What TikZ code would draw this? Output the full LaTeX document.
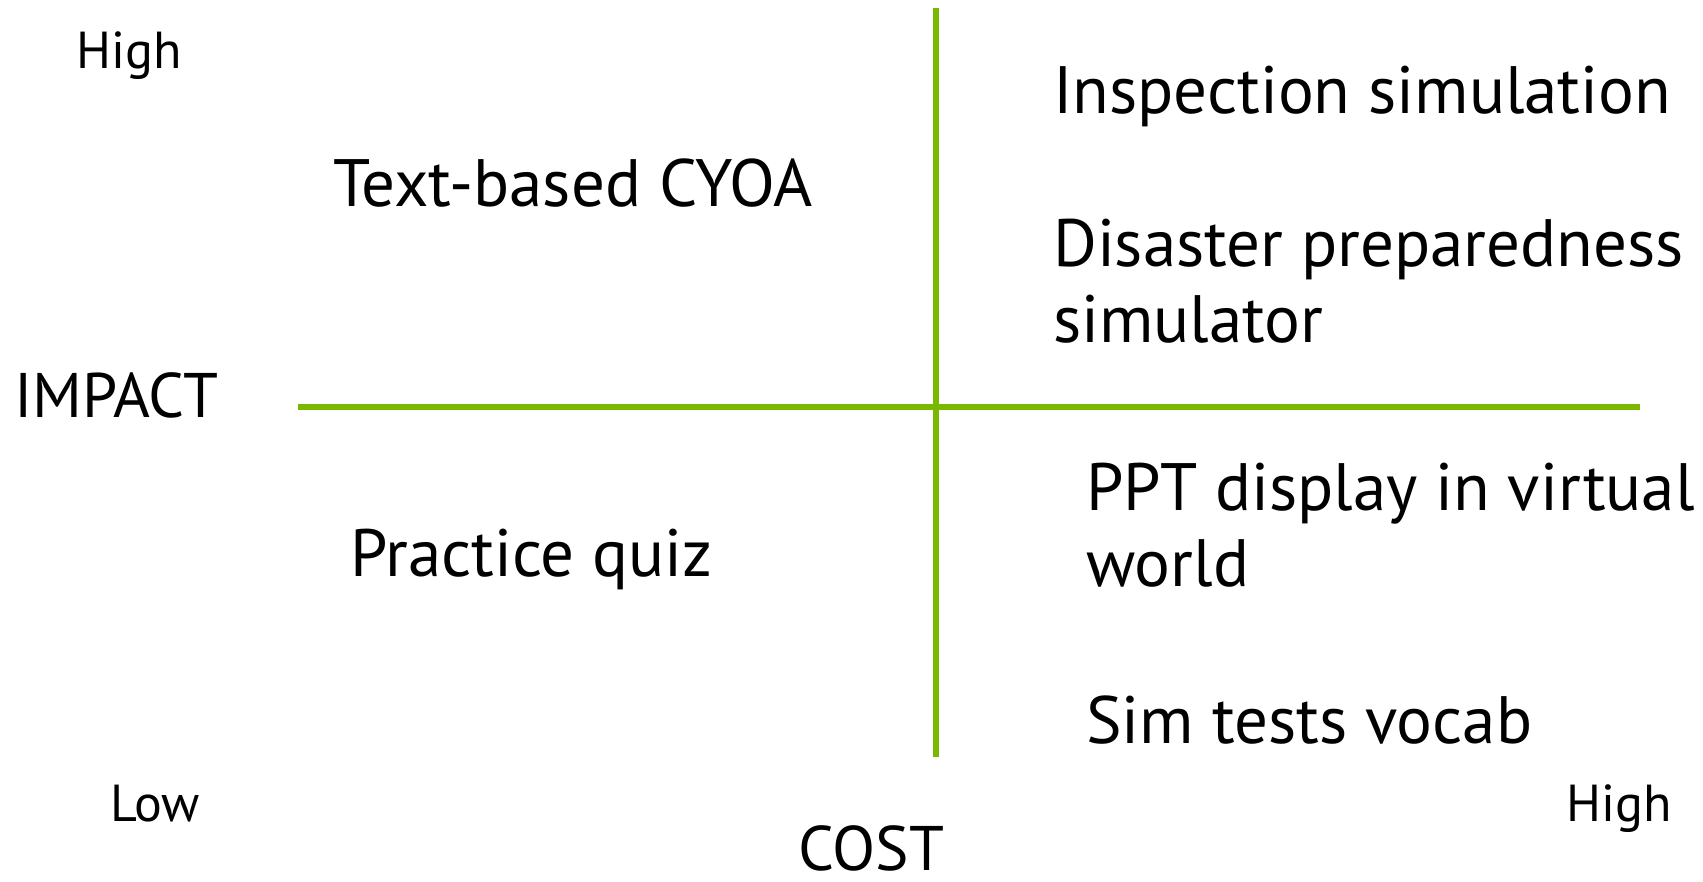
\documentclass[tikz,border=0pt]{standalone}
\usepackage{fontspec}
\setmainfont{PT Sans}
\definecolor{axisgreen}{HTML}{7AB800}
\begin{document}
\begin{tikzpicture}[x=1pt,y=-1pt,
  axis/.style={draw=axisgreen,line width=5.5pt},
  item/.style={anchor=base west,inner sep=0pt,align=left,
    font=\fontsize{67}{76}\selectfont},
  level/.style={anchor=base west,inner sep=0pt,
    font=\fontsize{52}{60}\selectfont},
  title/.style={anchor=base west,inner sep=0pt,
    font=\fontsize{63}{76}\selectfont}]
\useasboundingbox (0,0) rectangle (1703,881);
% quadrant axes
\coordinate (vtop) at (936,8);
\coordinate (vbot) at (936,757);
\coordinate (hleft) at (298,407);
\coordinate (hright) at (1640,407);
\draw[axis] (vtop) -- (vbot);
\draw[axis] (hleft) -- (hright);
% axis titles and levels
\node[title] (impact) at (14,417) {IMPACT};
\node[title,text depth=0pt] (cost) at (798,870) {COST};
\node[level] (impacthigh) at (76,68) {High};
\node[level] (costlow) at (110,821) {Low};
\node[level] (costhigh) at (1566,821) {High};
% quadrant entries (multi-line entries are placed by their last line)
\node[item] (cyoa) at (333,206) {Text-based CYOA};
\node[item] (quiz) at (350,576) {Practice quiz};
\node[item] (inspect) at (1053,113) {Inspection simulation};
\node[item] (disaster) at (1053,342) {Disaster preparedness\\simulator};
\node[item] (ppt) at (1086,586) {PPT display in virtual\\world};
\node[item] (vocab) at (1086,743) {Sim tests vocab};
\end{tikzpicture}
\end{document}
